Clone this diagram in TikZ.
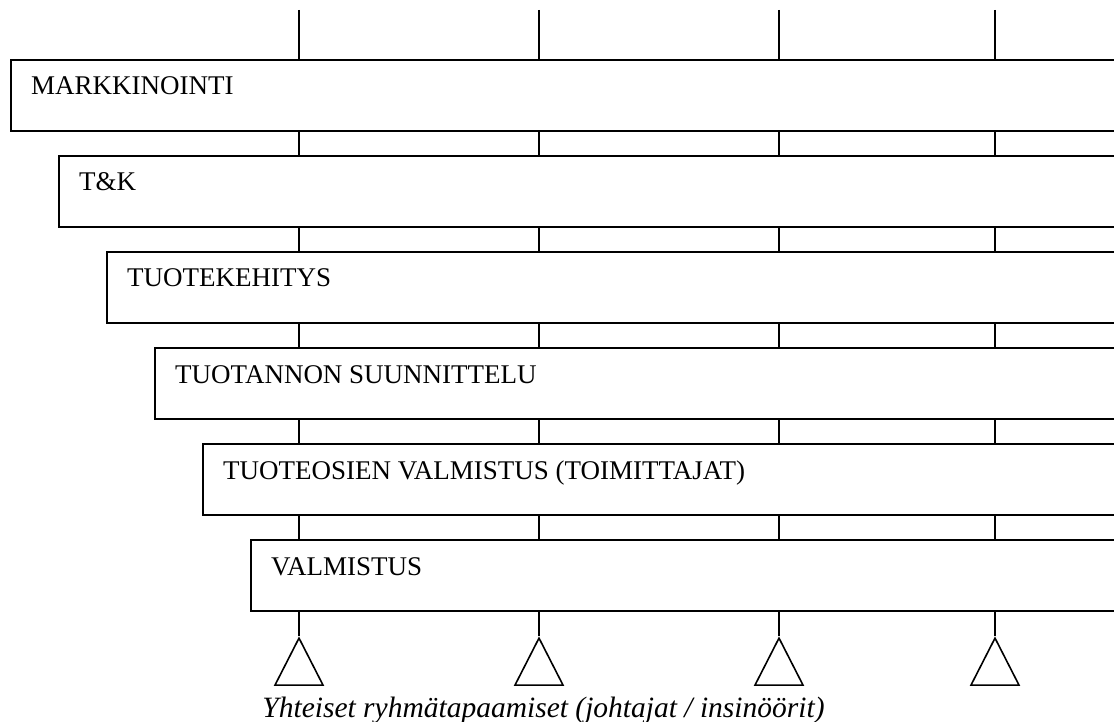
\documentclass[tikz,border=0pt]{standalone}
\usepackage{fontspec}
\setmainfont{Liberation Serif}
\usetikzlibrary{shapes.geometric}
\begin{document}
\begin{tikzpicture}[x=1pt,y=-1pt,
  phasebox/.style={draw,line width=2pt,rectangle,anchor=north west,
    minimum height=71pt,inner sep=0pt},
  phasetext/.style={anchor=base west,inner sep=0pt,font=\fontsize{27}{31}\selectfont},
  link/.style={line width=1.6pt},
  meeting/.style={draw,line width=1.6pt,isosceles triangle,isosceles triangle stretches,
    shape border rotate=90,minimum width=48pt,minimum height=47pt,inner sep=0pt,anchor=apex}]
\useasboundingbox (0,0) rectangle (1114,722);
\clip (0,0) rectangle (1114,722);
% meeting columns (top ends of the lines)
\coordinate (c1) at (299,10);
\coordinate (c2) at (539,10);
\coordinate (c3) at (779,10);
\coordinate (c4) at (995,10);
% staggered phases
\node[phasebox,minimum width=1130pt] (b1) at (10,59) {};
\node[phasebox,minimum width=1082pt] (b2) at (58,155) {};
\node[phasebox,minimum width=1034pt] (b3) at (106,251) {};
\node[phasebox,minimum width=986pt]  (b4) at (154,347) {};
\node[phasebox,minimum width=938pt]  (b5) at (202,443) {};
\node[phasebox,minimum width=890pt]  (b6) at (250,539) {};
\node[phasetext] (t1) at ([xshift=21pt,yshift=-36pt]b1.north west) {MARKKINOINTI};
\node[phasetext] (t2) at ([xshift=21pt,yshift=-36pt]b2.north west) {T\&K};
\node[phasetext] (t3) at ([xshift=21pt,yshift=-36pt]b3.north west) {TUOTEKEHITYS};
\node[phasetext] (t4) at ([xshift=21pt,yshift=-36pt]b4.north west) {TUOTANNON SUUNNITTELU};
\node[phasetext] (t5) at ([xshift=21pt,yshift=-36pt]b5.north west) {TUOTEOSIEN VALMISTUS (TOIMITTAJAT)};
\node[phasetext] (t6) at ([xshift=21pt,yshift=-36pt]b6.north west) {VALMISTUS};
% joint meetings below the last phase
\foreach \c [count=\i] in {c1,c2,c3,c4} {
  \node[meeting] (m\i) at (\c |- 0,636) {};
  \draw[link] (\c) -- (b1.north -| \c);
  \draw[link] (b1.south -| \c) -- (b2.north -| \c);
  \draw[link] (b2.south -| \c) -- (b3.north -| \c);
  \draw[link] (b3.south -| \c) -- (b4.north -| \c);
  \draw[link] (b4.south -| \c) -- (b5.north -| \c);
  \draw[link] (b5.south -| \c) -- (b6.north -| \c);
  \draw[link] (b6.south -| \c) -- (m\i.apex);
}
\node[font=\fontsize{29.5}{33}\selectfont\itshape,anchor=base,inner sep=0pt] (cap) at (543.5,717)
  {Yhteiset ryhmätapaamiset (johtajat / insinöörit)};
\end{tikzpicture}
\end{document}
